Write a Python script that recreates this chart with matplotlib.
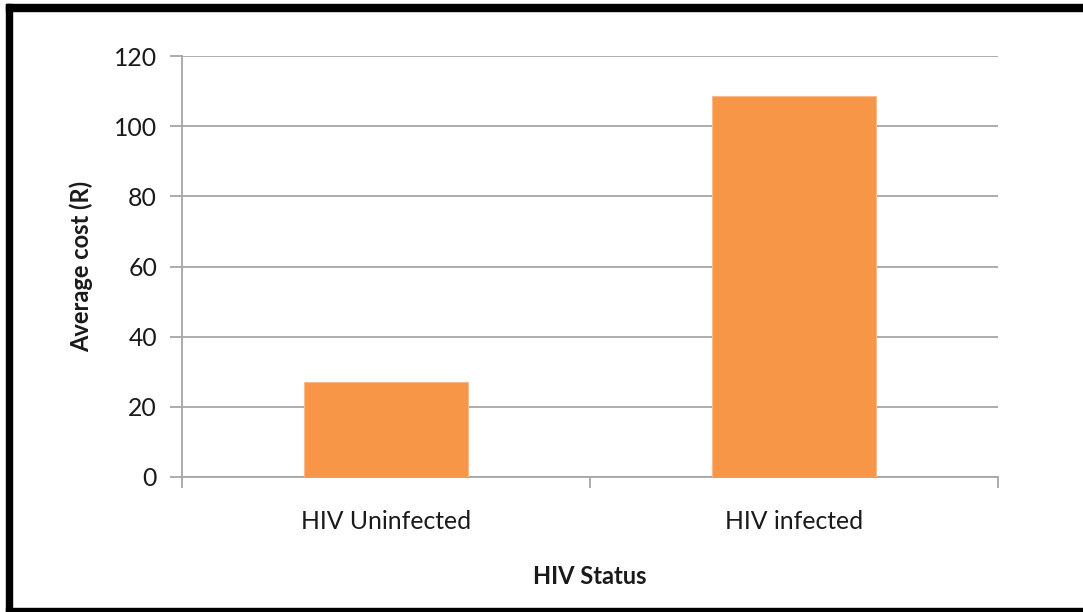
import matplotlib
matplotlib.use("Agg")
import matplotlib.pyplot as plt
from matplotlib.patches import Rectangle

categories = ["HIV Uninfected", "HIV infected"]
avg_cost = [27.0, 108.7]
yticks = [0, 20, 40, 60, 80, 100, 120]

BAR = "#F79646"
GRID = "#A6A6A6"
TXT = "#1a1a1a"

plt.rcParams["font.family"] = ["Lato", "DejaVu Sans"]

W, H = 1083, 612
fig = plt.figure(figsize=(W / 100, H / 100), dpi=100)
ax = fig.add_axes([182 / W, 1 - 477 / H, 816 / W, 421 / H])

x = list(range(len(categories)))
ax.bar(x, avg_cost, width=0.4, color=BAR, edgecolor="#FAB98A", linewidth=0.8, zorder=3)

ax.set_xlim(-0.5, len(categories) - 0.5)
ax.set_ylim(0, 120)
ax.set_yticks(yticks)
ax.yaxis.grid(True, color=GRID, linewidth=1.3)
ax.set_axisbelow(True)

# category boundaries get the tick marks, labels sit at the centres
ax.set_xticks([i - 0.5 for i in range(len(categories) + 1)])
ax.set_xticklabels([])
ax.set_xticks(x, minor=True)
ax.set_xticklabels(categories, minor=True)
ax.tick_params(axis="x", which="minor", length=0, pad=24, labelsize=17.8, labelcolor=TXT)
ax.tick_params(axis="x", which="major", length=8, width=1.3, color=GRID)
ax.tick_params(axis="y", length=9, width=1.3, color=GRID, pad=9, labelsize=17.8, labelcolor=TXT)

for side in ("top", "right"):
    ax.spines[side].set_visible(False)
for side in ("left", "bottom"):
    ax.spines[side].set_color(GRID)
    ax.spines[side].set_linewidth(1.3)

ax.set_ylabel("Average cost (R)", fontsize=17, fontweight="bold", color=TXT, labelpad=15)
ax.set_xlabel("HIV Status", fontsize=17, fontweight="bold", color=TXT, labelpad=23)

# frame around the chart area
for (x0, y0, w, h) in [(6, 4, W - 6, 7), (6, 4, 6, H - 4), (6, H - 4, W - 6, 4)]:
    fig.patches.append(Rectangle((x0 / W, 1 - (y0 + h) / H), w / W, h / H,
                                 transform=fig.transFigure, color="black", zorder=10))

fig.savefig("out.png", dpi=100)
